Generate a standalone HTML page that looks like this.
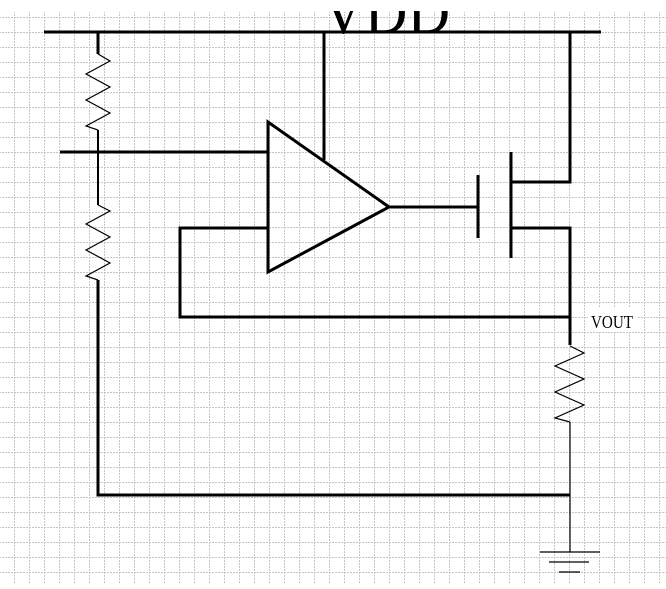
<!DOCTYPE html>
<html><head><style>html,body{margin:0;padding:0;background:#fff;overflow:hidden}</style></head>
<body>
<svg width="666" height="584" viewBox="0 0 666 584" xmlns="http://www.w3.org/2000/svg">
<defs>
<pattern id="g" x="-1" y="2" width="15" height="15" patternUnits="userSpaceOnUse">
<line x1="0" y1="0.5" x2="15" y2="0.5" stroke="#c4c4c4" stroke-width="1" stroke-dasharray="2,1"/>
<line x1="0.5" y1="0" x2="0.5" y2="15" stroke="#c4c4c4" stroke-width="1" stroke-dasharray="2,1"/>
</pattern>
</defs>
<rect x="0" y="12" width="666" height="572" fill="url(#g)"/>
<text x="322" y="33" font-family="Liberation Serif, serif" font-size="62" fill="#000" textLength="128" lengthAdjust="spacingAndGlyphs">VDD</text>
<rect x="0" y="0" width="666" height="11" fill="#fff"/>
<g stroke="#000" fill="none" stroke-width="3">
<line x1="44" y1="32" x2="601" y2="32"/>
<line x1="98" y1="32" x2="98" y2="54"/>
<line x1="60" y1="152" x2="268" y2="152"/>
<polygon points="268,122 268,272 389,207"/>
<line x1="324" y1="32" x2="324" y2="160"/>
<polyline points="268,228 180,228 180,317 570,317"/>
<line x1="389" y1="207" x2="478" y2="207"/>
<line x1="478" y1="175" x2="478" y2="238"/>
<line x1="511" y1="152" x2="511" y2="258"/>
<polyline points="511,182 570,182 570,32"/>
<polyline points="511,228 570,228 570,345"/>
<polyline points="98,280 98,495 570,495"/>
</g>
<g stroke="#000" fill="none" stroke-width="2">
<line x1="98" y1="130" x2="98" y2="205"/>
</g>
<g stroke="#000" fill="none" stroke-width="1.2">
<polyline points="98,54 110,61 86,74 110,87 86,100 110,113 86,126 98,130"/>
<polyline points="98,205 110,211 86,224 110,237 86,250 110,263 86,276 98,280"/>
<polyline points="570,346 584,353 555,366 584,379 555,392 584,405 555,418 570,422"/>
<line x1="570" y1="422" x2="570" y2="552"/>
<line x1="540" y1="552" x2="600" y2="552"/>
<line x1="549" y1="562" x2="589" y2="562"/>
<line x1="559" y1="572" x2="580" y2="572"/>
</g>
<rect x="588" y="308" width="50" height="24" fill="#fff"/>
<text x="591" y="328" font-family="Liberation Serif, serif" font-size="18" fill="#000" textLength="42" lengthAdjust="spacingAndGlyphs">VOUT</text>
</svg>
</body></html>
